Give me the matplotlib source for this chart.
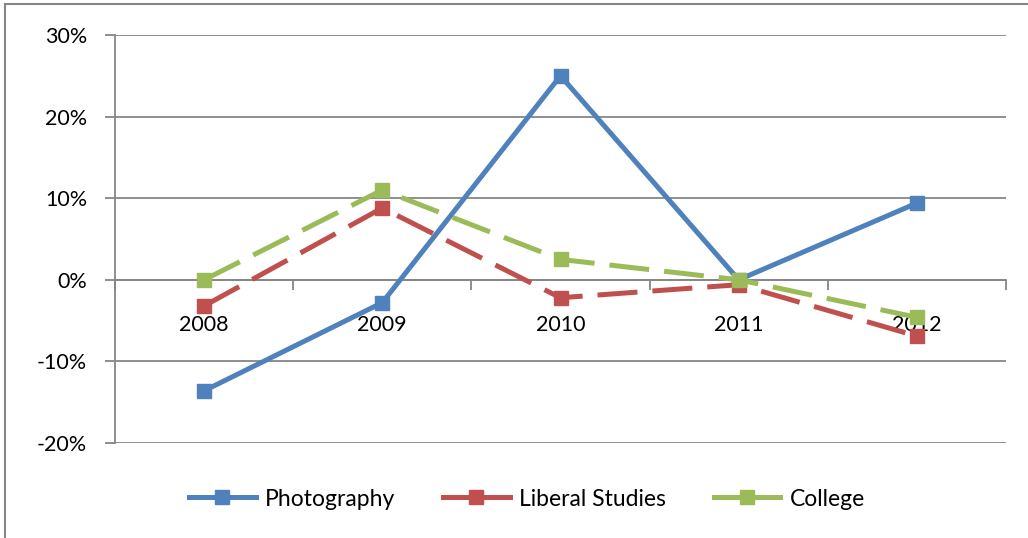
import matplotlib.pyplot as plt
from matplotlib.patches import Rectangle
from matplotlib.ticker import FuncFormatter

years = ["2008", "2009", "2010", "2011", "2012"]
photography = [-13.6, -2.8, 25.0, 0.0, 9.4]
liberal_studies = [-3.2, 8.8, -2.2, -0.6, -6.9]
college = [0.0, 11.0, 2.5, 0.0, -4.6]

plt.rcParams["font.family"] = ["Lato", "DejaVu Sans"]

fig = plt.figure(figsize=(10.28, 5.38), dpi=100)
ax = fig.add_axes([115 / 1028, (538 - 443) / 538, 891 / 1028, 408 / 538])

x = list(range(len(years)))
ax.plot(x, photography, color="#4F81BD", lw=3.6, marker="s", ms=9.5,
        label="Photography", zorder=3)
ax.plot(x, liberal_studies, color="#C0504D", lw=3.6, marker="s", ms=9.5,
        dashes=(8, 3), label="Liberal Studies", zorder=4)
ax.plot(x, college, color="#9BBB59", lw=3.6, marker="s", ms=9.5,
        dashes=(8, 3), label="College", zorder=5)

ax.set_xlim(-0.5, 4.5)
ax.set_ylim(-20, 30)
ax.set_yticks(range(-20, 31, 10))
ax.yaxis.set_major_formatter(FuncFormatter(lambda v, p: "%d%%" % v))
ax.grid(axis="y", color="#868686", lw=1.3)
ax.set_axisbelow(True)

grey = "#868686"
for s in ["top", "right"]:
    ax.spines[s].set_visible(False)
ax.spines["left"].set_color(grey)
ax.spines["left"].set_linewidth(1.3)
ax.spines["bottom"].set_position(("data", 0))
ax.spines["bottom"].set_color(grey)
ax.spines["bottom"].set_linewidth(1.3)

ax.tick_params(axis="y", length=7, width=1.3, color=grey, pad=13,
               labelsize=15.5, labelcolor="black")
ax.set_xticks(x)
ax.set_xticklabels(years)
ax.tick_params(axis="x", which="major", length=0, pad=25, labelsize=15.5,
               labelcolor="black")
ax.set_xticks([i - 0.5 for i in range(len(years) + 1)], minor=True)
ax.tick_params(axis="x", which="minor", length=7, width=1.3, color=grey,
               direction="out")

leg = fig.legend(loc="center", bbox_to_anchor=(527 / 1028, 1 - 499 / 538),
                 ncol=3, frameon=False, fontsize=16.5, handlelength=2.9,
                 columnspacing=2.1, handletextpad=0.4)
for line in leg.get_lines():
    line.set_linestyle("-")

# outer chart border
fig.add_artist(Rectangle((5 / 1028, -0.1), 1.2, 1 - 4 / 538 + 0.1,
                         transform=fig.transFigure, fill=False,
                         edgecolor=grey, lw=1.5))

fig.savefig("out.png", dpi=100)
